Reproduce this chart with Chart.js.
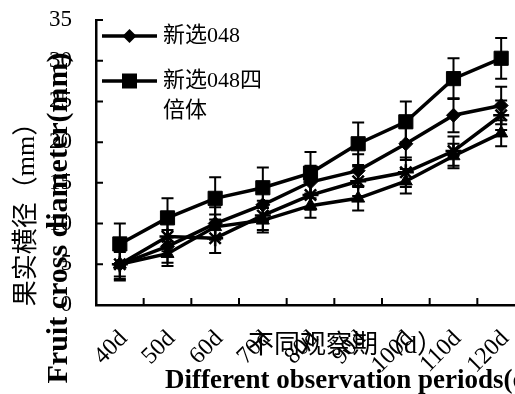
<!DOCTYPE html>
<html>
<head>
    <meta charset="UTF-8">
    <title>果实横径</title>
    <script src="https://cdnjs.cloudflare.com/ajax/libs/Chart.js/4.4.1/chart.umd.min.js"></script>
    <style>
        body { margin: 0; overflow: hidden; background: #fff; }
        #wrap { width: 536px; height: 394px; }
    </style>
</head>
<body>
    <div id="wrap"><canvas id="myChart" width="536" height="394"></canvas></div>
    <script>
        var periods = ['40d', '50d', '60d', '70d', '80d', '90d', '100d', '110d', '120d'];
        var yTicks = [0, 5, 10, 15, 20, 25, 30, 35];

        // fruit cross diameter (mm), mean and error per period
        var xin048 = [5.0, 7.2, 10.0, 12.3, 15.1, 16.5, 19.8, 23.3, 24.5];
        var xin048Err = [2.0, 2.0, 2.0, 2.0, 2.0, 2.0, 2.0, 2.1, 2.3];
        var xin048Tetra = [7.5, 10.7, 13.1, 14.4, 16.2, 19.8, 22.5, 27.8, 30.3];
        var xin048TetraErr = [2.5, 2.4, 2.6, 2.5, 2.6, 2.6, 2.5, 2.5, 2.5];
        var seriesStar = [5.0, 8.4, 8.2, 11.0, 13.5, 15.2, 16.3, 18.9, 23.3];
        var seriesStarErr = [1.8, 1.8, 1.8, 1.8, 1.8, 1.8, 1.8, 1.8, 1.8];
        var seriesTri = [5.0, 6.3, 9.6, 10.4, 12.2, 13.1, 15.2, 18.3, 21.1];
        var seriesTriErr = [1.5, 1.5, 1.5, 1.5, 1.5, 1.5, 1.5, 1.5, 1.6];

        var serif = '"Liberation Serif", "Noto Sans CJK SC", serif';

        function series(label, values, errors, style, radius) {
            return {
                label: label,
                data: values,
                errors: errors,
                borderColor: '#000',
                backgroundColor: '#000',
                borderWidth: 3.5,
                tension: 0,
                pointStyle: style,
                pointRadius: radius,
                pointBorderWidth: style === 'star' ? 2.5 : 1,
                pointBackgroundColor: '#000',
                pointBorderColor: '#000'
            };
        }

        // vertical error bars with caps, drawn under the lines
        const errorBars = {
            id: 'errorBars',
            beforeDatasetsDraw(chart) {
                const ctx = chart.ctx, y = chart.scales.y;
                ctx.save();
                ctx.strokeStyle = '#000';
                ctx.lineWidth = 2;
                chart.data.datasets.forEach((ds, i) => {
                    chart.getDatasetMeta(i).data.forEach((pt, j) => {
                        const top = y.getPixelForValue(ds.data[j] + ds.errors[j]);
                        const bot = y.getPixelForValue(ds.data[j] - ds.errors[j]);
                        ctx.beginPath();
                        ctx.moveTo(pt.x, top); ctx.lineTo(pt.x, bot);
                        ctx.moveTo(pt.x - 6, top); ctx.lineTo(pt.x + 6, top);
                        ctx.moveTo(pt.x - 6, bot); ctx.lineTo(pt.x + 6, bot);
                        ctx.stroke();
                    });
                });
                ctx.restore();
            }
        };

        // inward tick marks, legend box and the two-language axis titles
        const decor = {
            id: 'decor',
            afterDraw(chart) {
                const ctx = chart.ctx, a = chart.chartArea;
                const x = chart.scales.x, y = chart.scales.y;
                ctx.save();
                ctx.strokeStyle = '#000';
                ctx.fillStyle = '#000';
                ctx.lineWidth = 2;
                ctx.beginPath();
                yTicks.forEach(v => {
                    const py = y.getPixelForValue(v);
                    ctx.moveTo(a.left, py); ctx.lineTo(a.left + 7, py);
                });
                for (let i = 1; i < periods.length; i++) {
                    const px = x.getPixelForValue(i - 0.5);
                    ctx.moveTo(px, a.bottom); ctx.lineTo(px, a.bottom - 7);
                }
                ctx.stroke();

                // legend
                const lx = a.left + 6, lw = 55;
                const r1 = a.top + 16, r2 = a.top + 61;
                ctx.lineWidth = 3.5;
                ctx.beginPath();
                ctx.moveTo(lx, r1); ctx.lineTo(lx + lw, r1);
                ctx.moveTo(lx, r2); ctx.lineTo(lx + lw, r2);
                ctx.stroke();
                const mx = lx + lw / 2;
                ctx.beginPath();
                ctx.moveTo(mx, r1 - 7); ctx.lineTo(mx + 7, r1);
                ctx.lineTo(mx, r1 + 7); ctx.lineTo(mx - 7, r1);
                ctx.closePath();
                ctx.fill();
                ctx.fillRect(mx - 7.5, r2 - 7.5, 15, 15);

                ctx.font = '22px ' + serif;
                ctx.textBaseline = 'middle';
                ctx.textAlign = 'left';
                ctx.fillText('新选048', lx + lw + 6, r1);
                ctx.fillText('新选048四', lx + lw + 6, r2);
                ctx.fillText('倍体', lx + lw + 6, r2 + 30);

                // x titles
                ctx.font = '26px ' + serif;
                ctx.fillText('不同观察期（d）', 248, 346);
                ctx.font = 'bold 27px ' + serif;
                ctx.fillText('Different observation periods(d)', 165, 381);

                // y titles
                ctx.textAlign = 'center';
                ctx.save();
                ctx.translate(27, 208);
                ctx.rotate(-Math.PI / 2);
                ctx.font = '26px ' + serif;
                ctx.fillText('果实横径（mm）', 0, 0);
                ctx.restore();
                ctx.save();
                ctx.translate(59, 218);
                ctx.rotate(-Math.PI / 2);
                ctx.font = 'bold 30px ' + serif;
                ctx.fillText('Fruit cross diameter(mm)', 0, 0);
                ctx.restore();
                ctx.restore();
            }
        };

        const data = {
            labels: periods,
            datasets: [
                series('新选048', xin048, xin048Err, 'rectRot', 7),
                series('新选048四倍体', xin048Tetra, xin048TetraErr, 'rect', 10),
                series('series3', seriesStar, seriesStarErr, 'star', 8),
                series('series4', seriesTri, seriesTriErr, 'triangle', 7.5)
            ]
        };

        const config = {
            type: 'line',
            data,
            options: {
                responsive: false,
                animation: false,
                layout: { padding: { left: 0, top: 20, right: 7, bottom: 0 } },
                plugins: {
                    legend: { display: false },
                    tooltip: { enabled: false }
                },
                scales: {
                    x: {
                        offset: true,
                        // tick marks are drawn by hand; tickLength only spaces the labels
                        grid: { display: false, drawTicks: true, tickLength: 20 },
                        border: { display: true, color: '#000', width: 2.5 },
                        ticks: {
                            autoSkip: false,
                            minRotation: 45,
                            maxRotation: 45,
                            padding: 0,
                            labelOffset: 4,
                            color: '#000',
                            font: { family: serif, size: 24 }
                        },
                        afterFit(scale) { scale.height = 89; }
                    },
                    y: {
                        min: 0,
                        max: 35,
                        grid: { display: false, drawTicks: true, tickLength: 24 },
                        border: { display: true, color: '#000', width: 2.5 },
                        ticks: {
                            stepSize: 5,
                            padding: 0,
                            color: '#000',
                            font: { family: serif, size: 23 }
                        },
                        afterFit(scale) { scale.width = 96; }
                    }
                }
            },
            plugins: [errorBars, decor]
        };

        var myChart = new Chart(document.getElementById('myChart'), config);
    </script>
</body>
</html>
